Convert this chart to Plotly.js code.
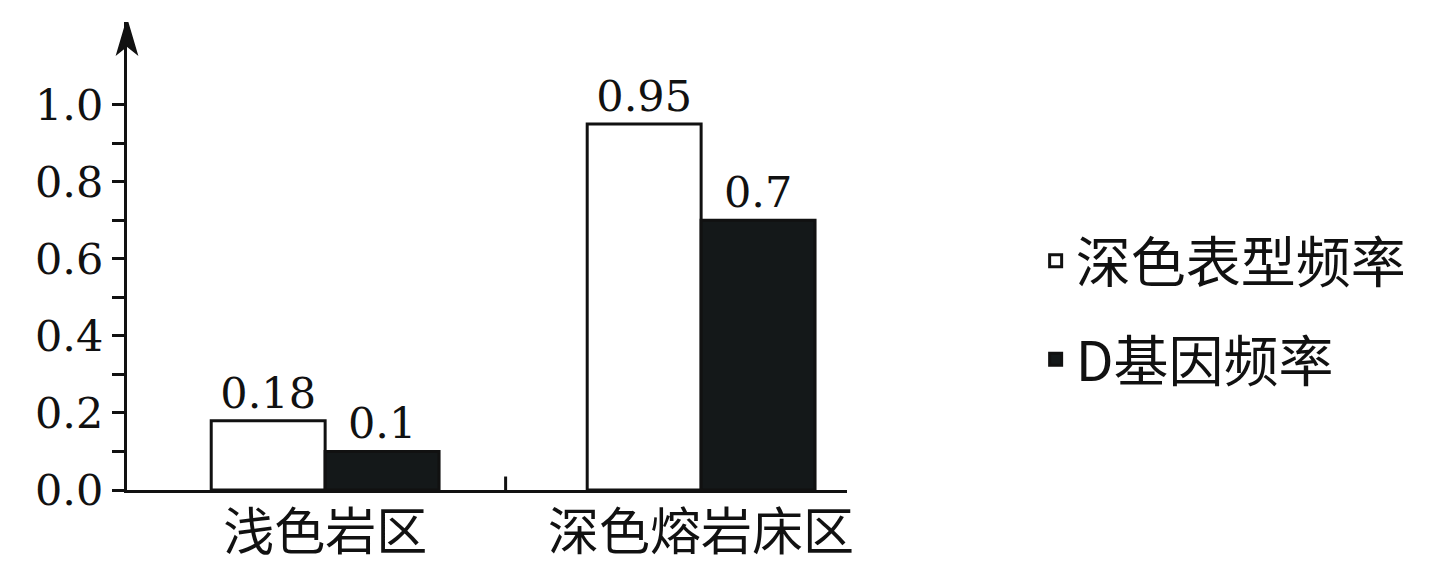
<!DOCTYPE html>
<html><head><meta charset="utf-8">
<script src="https://cdn.plot.ly/plotly-3.0.1.min.js"></script>
<style>html,body{margin:0;padding:0;background:#fff}#c{width:1437px;height:571px}</style>
</head><body><div id="c"></div>
<script>
const categories = ['浅色岩区', '深色熔岩床区'];
const seriesNames = ['深色表型频率', 'D基因频率'];
const darkPhenotypeFreq = [0.18, 0.95];
const geneDFreq = [0.1, 0.7];
const yTickVals = [0, 0.2, 0.4, 0.6, 0.8, 1.0];
const yMinorTickVals = [0.1, 0.3, 0.5, 0.7, 0.9];

const numFont = {family: 'DejaVu Serif, Liberation Serif, serif', size: 43, color: '#111'};
const cjkFont = {family: 'Noto Sans CJK SC, sans-serif', size: 55, color: '#111'};
const catFont = {family: 'Noto Sans CJK SC, sans-serif', size: 51, color: '#111'};

const traces = [
  {type: 'bar', name: seriesNames[0], legendgroup: 'a', x: categories, y: darkPhenotypeFreq,
   marker: {color: '#ffffff', line: {color: '#111', width: 3}},
   text: darkPhenotypeFreq.map(String), texttemplate: '%{text}', textposition: 'outside', textfont: numFont, cliponaxis: false},
  {type: 'bar', name: seriesNames[1], legendgroup: 'b', x: categories, y: geneDFreq,
   marker: {color: '#141819', line: {color: '#111', width: 3}},
   text: geneDFreq.map(String), texttemplate: '%{text}', textposition: 'outside', textfont: numFont, cliponaxis: false}
];

const layout = {
  width: 1437, height: 571,
  margin: {l: 127, r: 590, t: 22, b: 81},
  paper_bgcolor: '#fff', plot_bgcolor: 'rgba(0,0,0,0)',
  barmode: 'group', bargap: 0.394, bargroupgap: 0,
  showlegend: true,
  legend: {x: 1.262, xanchor: 'left', y: 0.58, yanchor: 'top', font: cjkFont,
           traceorder: 'grouped', tracegroupgap: 24, itemwidth: 30, bgcolor: 'rgba(0,0,0,0)'},
  xaxis: {type: 'category', range: [-0.527, 1.388], showline: true, linecolor: '#111', linewidth: 3,
          ticks: '', tickfont: catFont, ticklabelstandoff: -4, showgrid: false, zeroline: false, fixedrange: true},
  yaxis: {range: [0, 1.215], showline: true, linecolor: '#111', linewidth: 3,
          tickmode: 'array', tickvals: yTickVals, tickformat: '.1f',
          ticks: 'outside', ticklen: 12, tickwidth: 3, tickcolor: '#111',
          minor: {tickmode: 'array', tickvals: yMinorTickVals, ticks: 'outside', ticklen: 12, tickwidth: 3, tickcolor: '#111'},
          tickfont: numFont, showgrid: false, zeroline: false, fixedrange: true},
  shapes: [
    {type: 'line', xref: 'x', yref: 'y', x0: 0.48, x1: 0.48, y0: 0, y1: 0.035, line: {color: '#111', width: 3}},
    {type: 'path', xref: 'paper', yref: 'y', xsizemode: 'pixel', ysizemode: 'pixel', xanchor: 0, yanchor: 1.215,
     path: 'M0,2 L-10,-32 L0,-24 L10,-32 Z', fillcolor: '#111', line: {color: '#111', width: 1.5}}
  ]
};

Plotly.newPlot('c', traces, layout, {displayModeBar: false, staticPlot: true});
</script>
</body></html>
